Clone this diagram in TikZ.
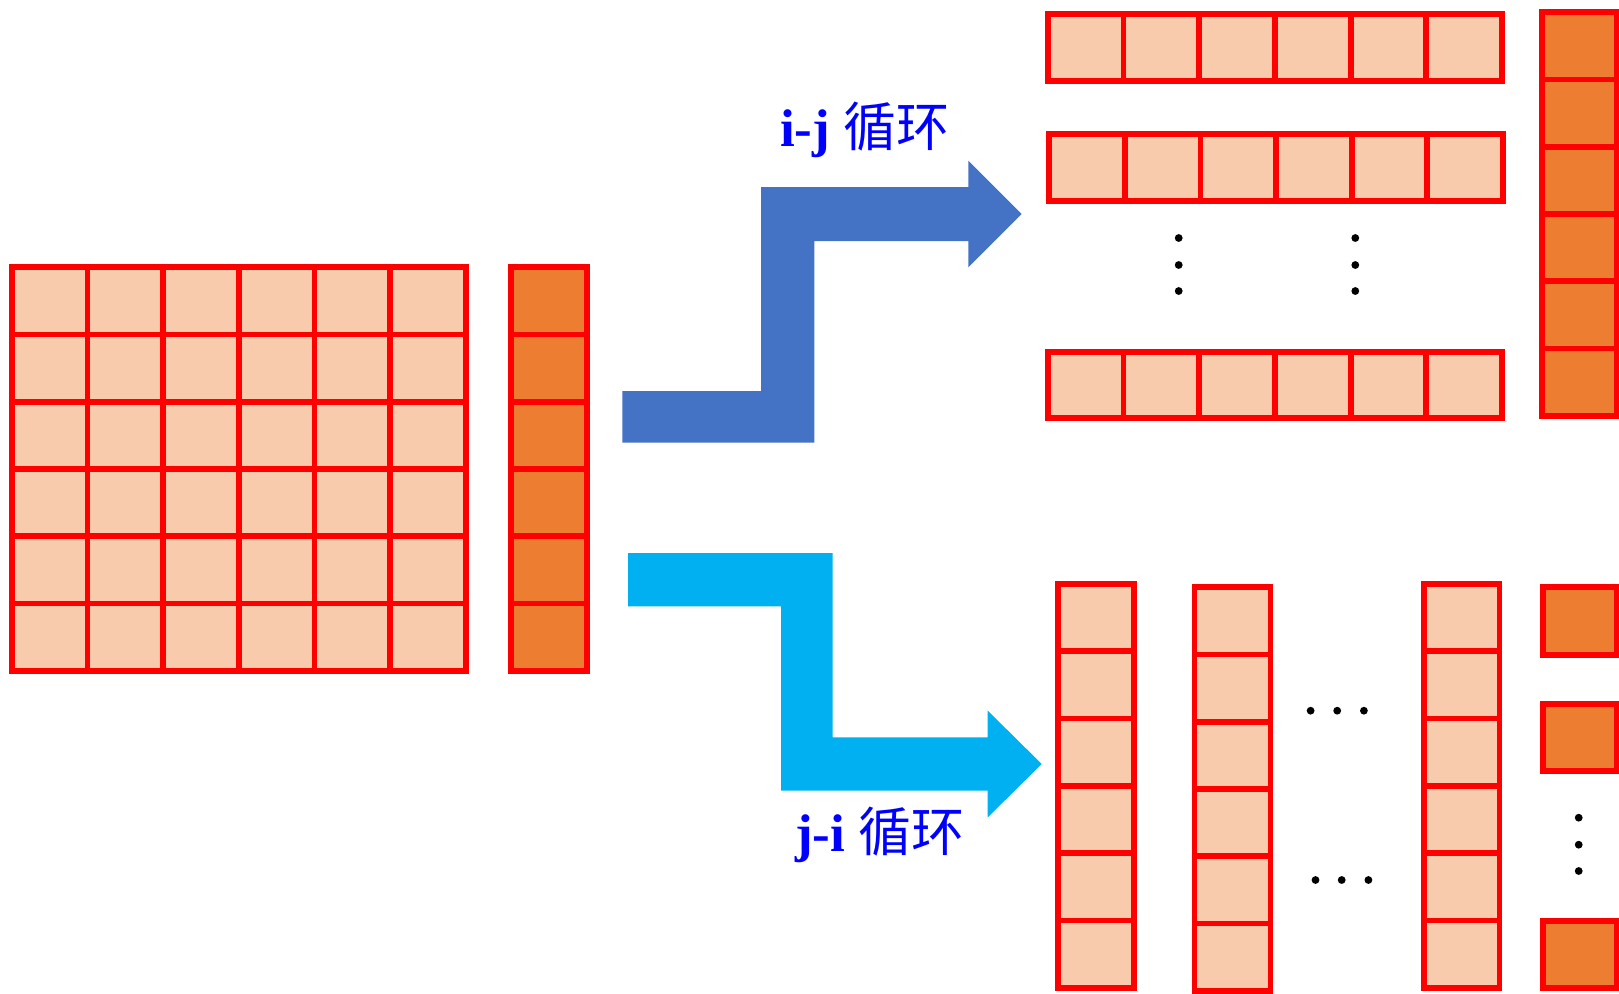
\documentclass[tikz,border=0pt]{standalone}
\usepackage{fontspec}
\setmainfont{Liberation Serif}
\newfontfamily\cjk{Noto Sans CJK SC}
\definecolor{cellred}{HTML}{FF0000}
\definecolor{lightcell}{HTML}{F8CBAD}
\definecolor{darkcell}{HTML}{ED7D31}
\definecolor{arrowblue}{HTML}{4472C4}
\definecolor{arrowcyan}{HTML}{00B0F0}
\definecolor{textblue}{HTML}{0000FF}
\tikzset{
  cell/.style={draw=cellred, line width=5.8pt, fill=lightcell, inner sep=0pt, outer sep=0pt, anchor=north west},
  ocell/.style={cell, fill=darkcell},
  lbl/.style={text=textblue, inner sep=0pt, outer sep=0pt, font=\fontsize{53}{60}\selectfont},
  dotmark/.style={fill=black}
}
\begin{document}
\begin{tikzpicture}[x=1pt,y=-1pt]
\useasboundingbox (0,0) rectangle (1619,993);
% left matrix
\foreach \r in {0,...,5}{
  \foreach \c in {0,...,5}{
    \node[cell, minimum width=75.63pt, minimum height=67.23pt] (m-\r-\c) at ({11.9+75.63*\c},{267.3+67.23*\r}) {};
  }
  \node[ocell, minimum width=75.8pt, minimum height=67.23pt] (v-\r) at (510.9,{267.3+67.23*\r}) {};
}
% top-right rows
\foreach \c in {0,...,5}{
  \node[cell, minimum width=75.73pt, minimum height=66.7pt] (ra-\c) at ({1047.7+75.73*\c},14) {};
  \node[cell, minimum width=75.62pt, minimum height=66.7pt] (rb-\c) at ({1049.2+75.62*\c},134) {};
  \node[cell, minimum width=75.73pt, minimum height=66.6pt] (rc-\c) at ({1047.7+75.73*\c},351.7) {};
}
% top-right orange column
\foreach \r in {0,...,5}{
  \node[ocell, minimum width=75.1pt, minimum height=67.23pt] (ov-\r) at (1541.6,{12.3+67.23*\r}) {};
}
% bottom columns
\foreach \r in {0,...,5}{
  \node[cell, minimum width=75.8pt, minimum height=67.28pt] (ca-\r) at (1058.2,{584+67.28*\r}) {};
  \node[cell, minimum width=75.9pt, minimum height=67.23pt] (cb-\r) at (1194.5,{587.3+67.23*\r}) {};
  \node[cell, minimum width=75.9pt, minimum height=67.28pt] (cc-\r) at (1423.6,{584+67.28*\r}) {};
}
% bottom-right orange squares
\node[ocell, minimum width=74pt, minimum height=67.4pt] (os-1) at (1542.7,587.3) {};
\node[ocell, minimum width=74pt, minimum height=67.3pt] (os-2) at (1542.7,704) {};
\node[ocell, minimum width=74pt, minimum height=67pt] (os-3) at (1542.7,920.7) {};
% dots
\foreach \y in {238,265,291}{
  \fill[dotmark] (1178.7,\y) circle (3.9);
  \fill[dotmark] (1355.3,\y) circle (3.9);
}
\foreach \x in {1310.6,1337.2,1363.9}{\fill[dotmark] (\x,710.7) circle (3.9);}
\foreach \x in {1315.5,1341.7,1368.4}{\fill[dotmark] (\x,880) circle (3.9);}
\foreach \y in {817.7,844.7,871}{\fill[dotmark] (1578.7,\y) circle (3.9);}
% blue bent arrow (i-j)
\fill[arrowblue] (622.3,391) -- (761,391) -- (761,187) -- (968.3,187) -- (968.3,160.7)
  -- (1021.7,214) -- (968.3,267.3) -- (968.3,241) -- (814.3,241) -- (814.3,442.7)
  -- (622.3,442.7) -- cycle;
% cyan bent arrow (j-i)
\fill[arrowcyan] (628,553) -- (832.7,553) -- (832.7,737.3) -- (987.7,737.3) -- (987.7,710.7)
  -- (1041.7,764) -- (987.7,817.3) -- (987.7,790.7) -- (781,790.7) -- (781,606.3)
  -- (628,606.3) -- cycle;
% labels
\node[lbl, anchor=base west] (lij) at (780,146.7) {\textbf{i-j} {\cjk 循环}};
\node[lbl, anchor=base west] (lji) at (795,851.7) {\textbf{j-i} {\cjk 循环}};
\end{tikzpicture}
\end{document}
